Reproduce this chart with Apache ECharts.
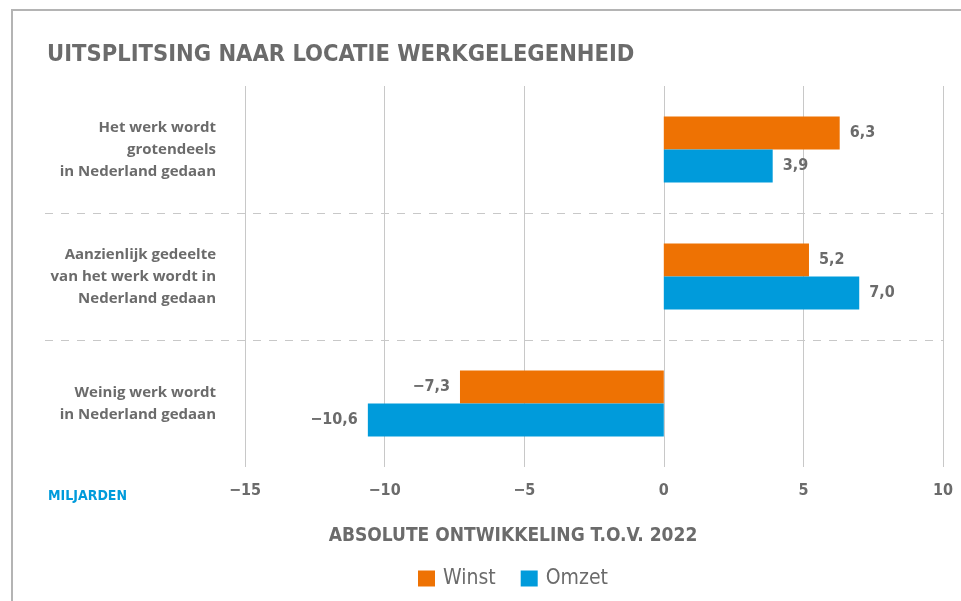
<!DOCTYPE html>
<html>
<head>
<meta charset="utf-8">
<script src="https://cdn.jsdelivr.net/npm/echarts@6/dist/echarts.min.js"></script>
<style>
  html, body { margin: 0; padding: 0; background: #fff; }
  #chart { width: 961px; height: 601px; }
</style>
</head>
<body>
<div id="chart"></div>
<script>
// categorieen (van boven naar beneden)
var categories = [
    'Het werk wordt\ngrotendeels\nin Nederland gedaan',
    'Aanzienlijk gedeelte\nvan het werk wordt in\nNederland gedaan',
    'Weinig werk wordt\nin Nederland gedaan'
];
var winst = [6.3, 5.2, -7.3];
var omzet = [3.9, 7.0, -10.6];
var xTicks = { min: -15, max: 10, step: 5 };

var grijs = '#6b6b6b';
var oranje = '#ee7203';
var blauw = '#009bdb';
var condensed = '"DejaVu Sans Condensed", "DejaVu Sans", sans-serif';

// getal naar nl notatie met echte minteken
var fmt = function (v, dec) {
    var s = dec ? Math.abs(v).toFixed(dec).replace('.', ',') : String(Math.abs(v));
    return (v < 0 ? '\u2212' : '') + s;
};

var barData = function (arr) {
    return arr.map(function (v) {
        return {
            value: v,
            label: { position: v < 0 ? 'left' : 'right' }
        };
    });
};

var barLabel = {
    show: true,
    distance: 10,
    color: grijs,
    fontFamily: condensed,
    fontWeight: 'bold',
    fontSize: 16,
    formatter: function (p) { return fmt(p.value, 1); }
};

var chart = echarts.init(document.getElementById('chart'));

var option = {
    animation: false,
    title: [
        {
            text: 'UITSPLITSING NAAR LOCATIE WERKGELEGENHEID',
            left: 42, top: 38,
            textStyle: { color: grijs, fontFamily: condensed, fontWeight: 'bold', fontSize: 23.5 }
        },
        {
            text: 'ABSOLUTE ONTWIKKELING T.O.V. 2022',
            left: 508, top: 522, textAlign: 'center',
            textStyle: { color: grijs, fontFamily: condensed, fontWeight: 'bold', fontSize: 19 }
        },
        {
            text: 'MILJARDEN',
            left: 43, top: 484,
            textStyle: { color: blauw, fontFamily: condensed, fontWeight: 'bold', fontSize: 14 }
        }
    ],
    legend: {
        data: ['Winst', 'Omzet'],
        left: 413, top: 563,
        icon: 'rect',
        itemWidth: 17, itemHeight: 16, itemGap: 25,
        textStyle: { color: grijs, fontFamily: condensed, fontSize: 21, padding: [0, 0, 0, 3] }
    },
    grid: { left: 245, right: 18, top: 86, bottom: 134 },
    xAxis: {
        type: 'value',
        min: xTicks.min, max: xTicks.max, interval: xTicks.step,
        axisLine: { show: false },
        axisTick: { show: false },
        splitLine: { lineStyle: { color: '#c8c8c8', width: 1 } },
        axisLabel: {
            margin: 16,
            color: grijs, fontFamily: condensed, fontWeight: 'bold', fontSize: 16,
            formatter: function (v) { return fmt(v); }
        }
    },
    yAxis: {
        type: 'category',
        data: categories,
        inverse: true,
        axisLine: { show: false },
        axisTick: { show: false },
        splitLine: { show: false },
        axisLabel: {
            margin: 29,
            align: 'right',
            color: grijs,
            fontFamily: '"Open Sans", "Noto Sans", sans-serif',
            fontWeight: 'bold',
            fontSize: 15,
            lineHeight: 22
        }
    },
    series: [
        {
            name: 'Winst', type: 'bar',
            data: barData(winst),
            barWidth: 33, barGap: '0%',
            itemStyle: { color: oranje },
            label: barLabel
        },
        {
            name: 'Omzet', type: 'bar',
            data: barData(omzet),
            barWidth: 33, barGap: '0%',
            itemStyle: { color: blauw },
            label: barLabel
        }
    ]
};
chart.setOption(option);

// gestreepte scheidingslijnen tussen de categorieen + kader
var extra = [
    { type: 'polyline', silent: true, z: -1,
      shape: { points: [[12, 601], [12, 10], [961, 10]] },
      style: { stroke: '#b4b4b4', lineWidth: 2, fill: null } }
];
for (var i = 0; i < categories.length - 1; i++) {
    var y1 = chart.convertToPixel({ yAxisIndex: 0 }, i);
    var y2 = chart.convertToPixel({ yAxisIndex: 0 }, i + 1);
    var y = Math.round((y1 + y2) / 2) + 0.5;
    extra.push({
        type: 'line', silent: true, z: -1,
        shape: { x1: 45, y1: y, x2: 943, y2: y },
        style: { stroke: '#c8c8c8', lineWidth: 1, lineDash: [8, 8] }
    });
}
chart.setOption({ graphic: extra });
</script>
</body>
</html>
